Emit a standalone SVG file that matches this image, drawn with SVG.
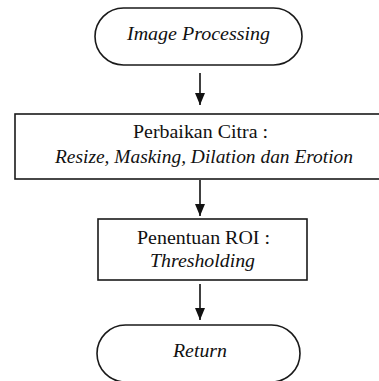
<svg xmlns="http://www.w3.org/2000/svg" width="379" height="381" viewBox="0 0 379 381">
<defs>
<style>
.shape{fill:#fff;stroke:#1a1a1a;stroke-width:1.6}
.c{stroke:#111;stroke-width:1.6;fill:none}
</style>
<marker id="arr" viewBox="0 0 12 10" refX="12" refY="5" markerWidth="12" markerHeight="10" markerUnits="userSpaceOnUse" orient="auto">
<path d="M0,0 L12,5 L0,10 Z" fill="#111"/>
</marker>
</defs>
<rect width="379" height="381" fill="#fff"/>
<g id="connectors">
<line class="c" x1="200" y1="73" x2="200" y2="105" marker-end="url(#arr)"/>
<line class="c" x1="200" y1="180" x2="200" y2="216" marker-end="url(#arr)"/>
<line class="c" x1="200" y1="284" x2="200" y2="320" marker-end="url(#arr)"/>
</g>
<g font-family="Liberation Serif, DejaVu Serif, serif" font-size="18" fill="#111" text-anchor="middle">
<g id="start">
<rect class="shape" x="95" y="8" width="207" height="57" rx="28.5" ry="28.5"/>
<text font-style="italic" x="198.5" y="40" textLength="143" lengthAdjust="spacingAndGlyphs">Image Processing</text>
</g>
<g id="perbaikan">
<rect class="shape" x="15" y="114" width="370" height="65"/>
<text x="200.5" y="138" textLength="135" lengthAdjust="spacingAndGlyphs">Perbaikan Citra :</text>
<text font-style="italic" x="204" y="163" textLength="298" lengthAdjust="spacingAndGlyphs">Resize, Masking, Dilation dan Erotion</text>
</g>
<g id="roi">
<rect class="shape" x="98" y="219" width="209" height="61"/>
<text x="203.5" y="244" textLength="133" lengthAdjust="spacingAndGlyphs">Penentuan ROI :</text>
<text font-style="italic" x="202.5" y="267" textLength="105" lengthAdjust="spacingAndGlyphs">Thresholding</text>
</g>
<g id="return">
<rect class="shape" x="97" y="325" width="203" height="57" rx="28.5" ry="28.5"/>
<text font-style="italic" x="200" y="357" textLength="54" lengthAdjust="spacingAndGlyphs">Return</text>
</g>
</g>
</svg>
